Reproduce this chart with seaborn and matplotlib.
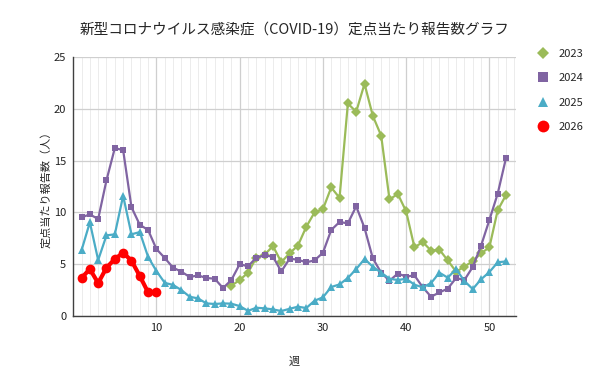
import numpy as np
import pandas as pd
import matplotlib
matplotlib.use("Agg")
import matplotlib.pyplot as plt
import seaborn as sns
from matplotlib.ticker import MultipleLocator
from matplotlib.lines import Line2D

# ---- data ----
weeks_2023 = list(range(19, 53))
vals_2023 = [2.93, 3.47, 4.18, 5.63, 5.92, 6.75, 5.2, 6.05, 6.8, 8.6,
             10.0, 10.3, 12.4, 11.4, 20.5, 19.7, 22.4, 19.3, 17.4, 11.25,
             11.77, 10.1, 6.62, 7.14, 6.3, 6.4, 5.37, 4.28, 4.76, 5.3,
             6.05, 6.62, 10.2, 11.67]

weeks_2024 = list(range(1, 53))
vals_2024 = [9.52, 9.8, 9.36, 13.1, 16.2, 16.0, 10.5, 8.8, 8.3, 6.46,
             5.6, 4.66, 4.28, 3.76, 3.92, 3.67, 3.6, 2.7, 3.47, 5.0,
             4.8, 5.63, 5.85, 5.72, 4.3, 5.53, 5.43, 5.18, 5.37, 6.1,
             8.3, 9.07, 8.94, 10.58, 8.5, 5.56, 4.18, 3.4, 4.1, 3.8,
             3.92, 2.77, 1.86, 2.28, 2.64, 3.67, 3.47, 4.73, 6.78, 9.26,
             11.8, 15.24]

weeks_2025 = list(range(1, 53))
vals_2025 = [6.33, 9.04, 5.4, 7.78, 7.88, 11.6, 7.88, 8.1, 5.7, 4.34,
             3.2, 3.0, 2.5, 1.86, 1.7, 1.22, 1.16, 1.22, 1.19, 0.96,
             0.5, 0.8, 0.74, 0.64, 0.48, 0.7, 0.9, 0.77, 1.48, 1.8,
             2.8, 3.05, 3.67, 4.53, 5.5, 4.76, 4.18, 3.6, 3.47, 3.6,
             3.02, 2.77, 3.18, 4.18, 3.7, 4.53, 3.38, 2.6, 3.54, 4.24,
             5.18, 5.27]

weeks_2026 = list(range(1, 11))
vals_2026 = [3.67, 4.53, 3.18, 4.66, 5.5, 6.1, 5.34, 3.86, 2.28, 2.35]

x_ticks = [10, 20, 30, 40, 50]

series = [
    ("2023", weeks_2023, vals_2023, "#9BBB59", "D", 5, 1.6),
    ("2024", weeks_2024, vals_2024, "#8064A2", "s", 5, 1.6),
    ("2025", weeks_2025, vals_2025, "#4BACC6", "^", 6, 1.6),
    ("2026", weeks_2026, vals_2026, "#FF0000", "o", 7, 3.0),
]

# ---- plot ----
sns.set_style("white")
plt.rcParams["font.family"] = ["Noto Sans CJK JP", "DejaVu Sans"]

fig = plt.figure(figsize=(6, 3.84), dpi=100)
ax = fig.add_axes([0.122, 0.177, 0.738, 0.675])

handles = []
for name, wk, vals, color, marker, ms, lw in series:
    sns.lineplot(x=wk, y=vals, ax=ax, color=color, marker=marker,
                 markersize=ms, linewidth=lw, markeredgewidth=0)
    # legend shows the marker only
    handles.append(Line2D([], [], color=color, marker=marker, markersize=ms + 1.5,
                          linestyle="None", markeredgewidth=0, label=name))

ax.set_xlim(0, 53.2)
ax.set_ylim(0, 25)
ax.set_xticks(x_ticks)
ax.xaxis.set_minor_locator(MultipleLocator(1))
ax.yaxis.set_major_locator(MultipleLocator(5))
ax.grid(which="major", color="#CFCFCF", linewidth=0.9)
ax.grid(which="minor", axis="x", color="#E9E9E9", linewidth=0.6)
ax.set_axisbelow(True)

for side in ["top", "right"]:
    ax.spines[side].set_visible(False)
for side in ["left", "bottom"]:
    ax.spines[side].set_color("#404040")
    ax.spines[side].set_linewidth(1.0)
ax.tick_params(which="both", length=0, labelsize=8, colors="#222222", pad=5)

ax.set_xlabel("週", fontsize=8, labelpad=17)
ax.set_ylabel("定点当たり報告数（人）", fontsize=8, labelpad=2)
ax.set_title("新型コロナウイルス感染症（COVID-19）定点当たり報告数グラフ",
             fontsize=10.5, pad=17)

ax.legend(handles=handles, loc="upper left", bbox_to_anchor=(1.02, 1.07),
          frameon=False, fontsize=8, handletextpad=0.6, labelspacing=1.3,
          handlelength=1.5)

plt.savefig("out.png", dpi=100)
plt.close()
